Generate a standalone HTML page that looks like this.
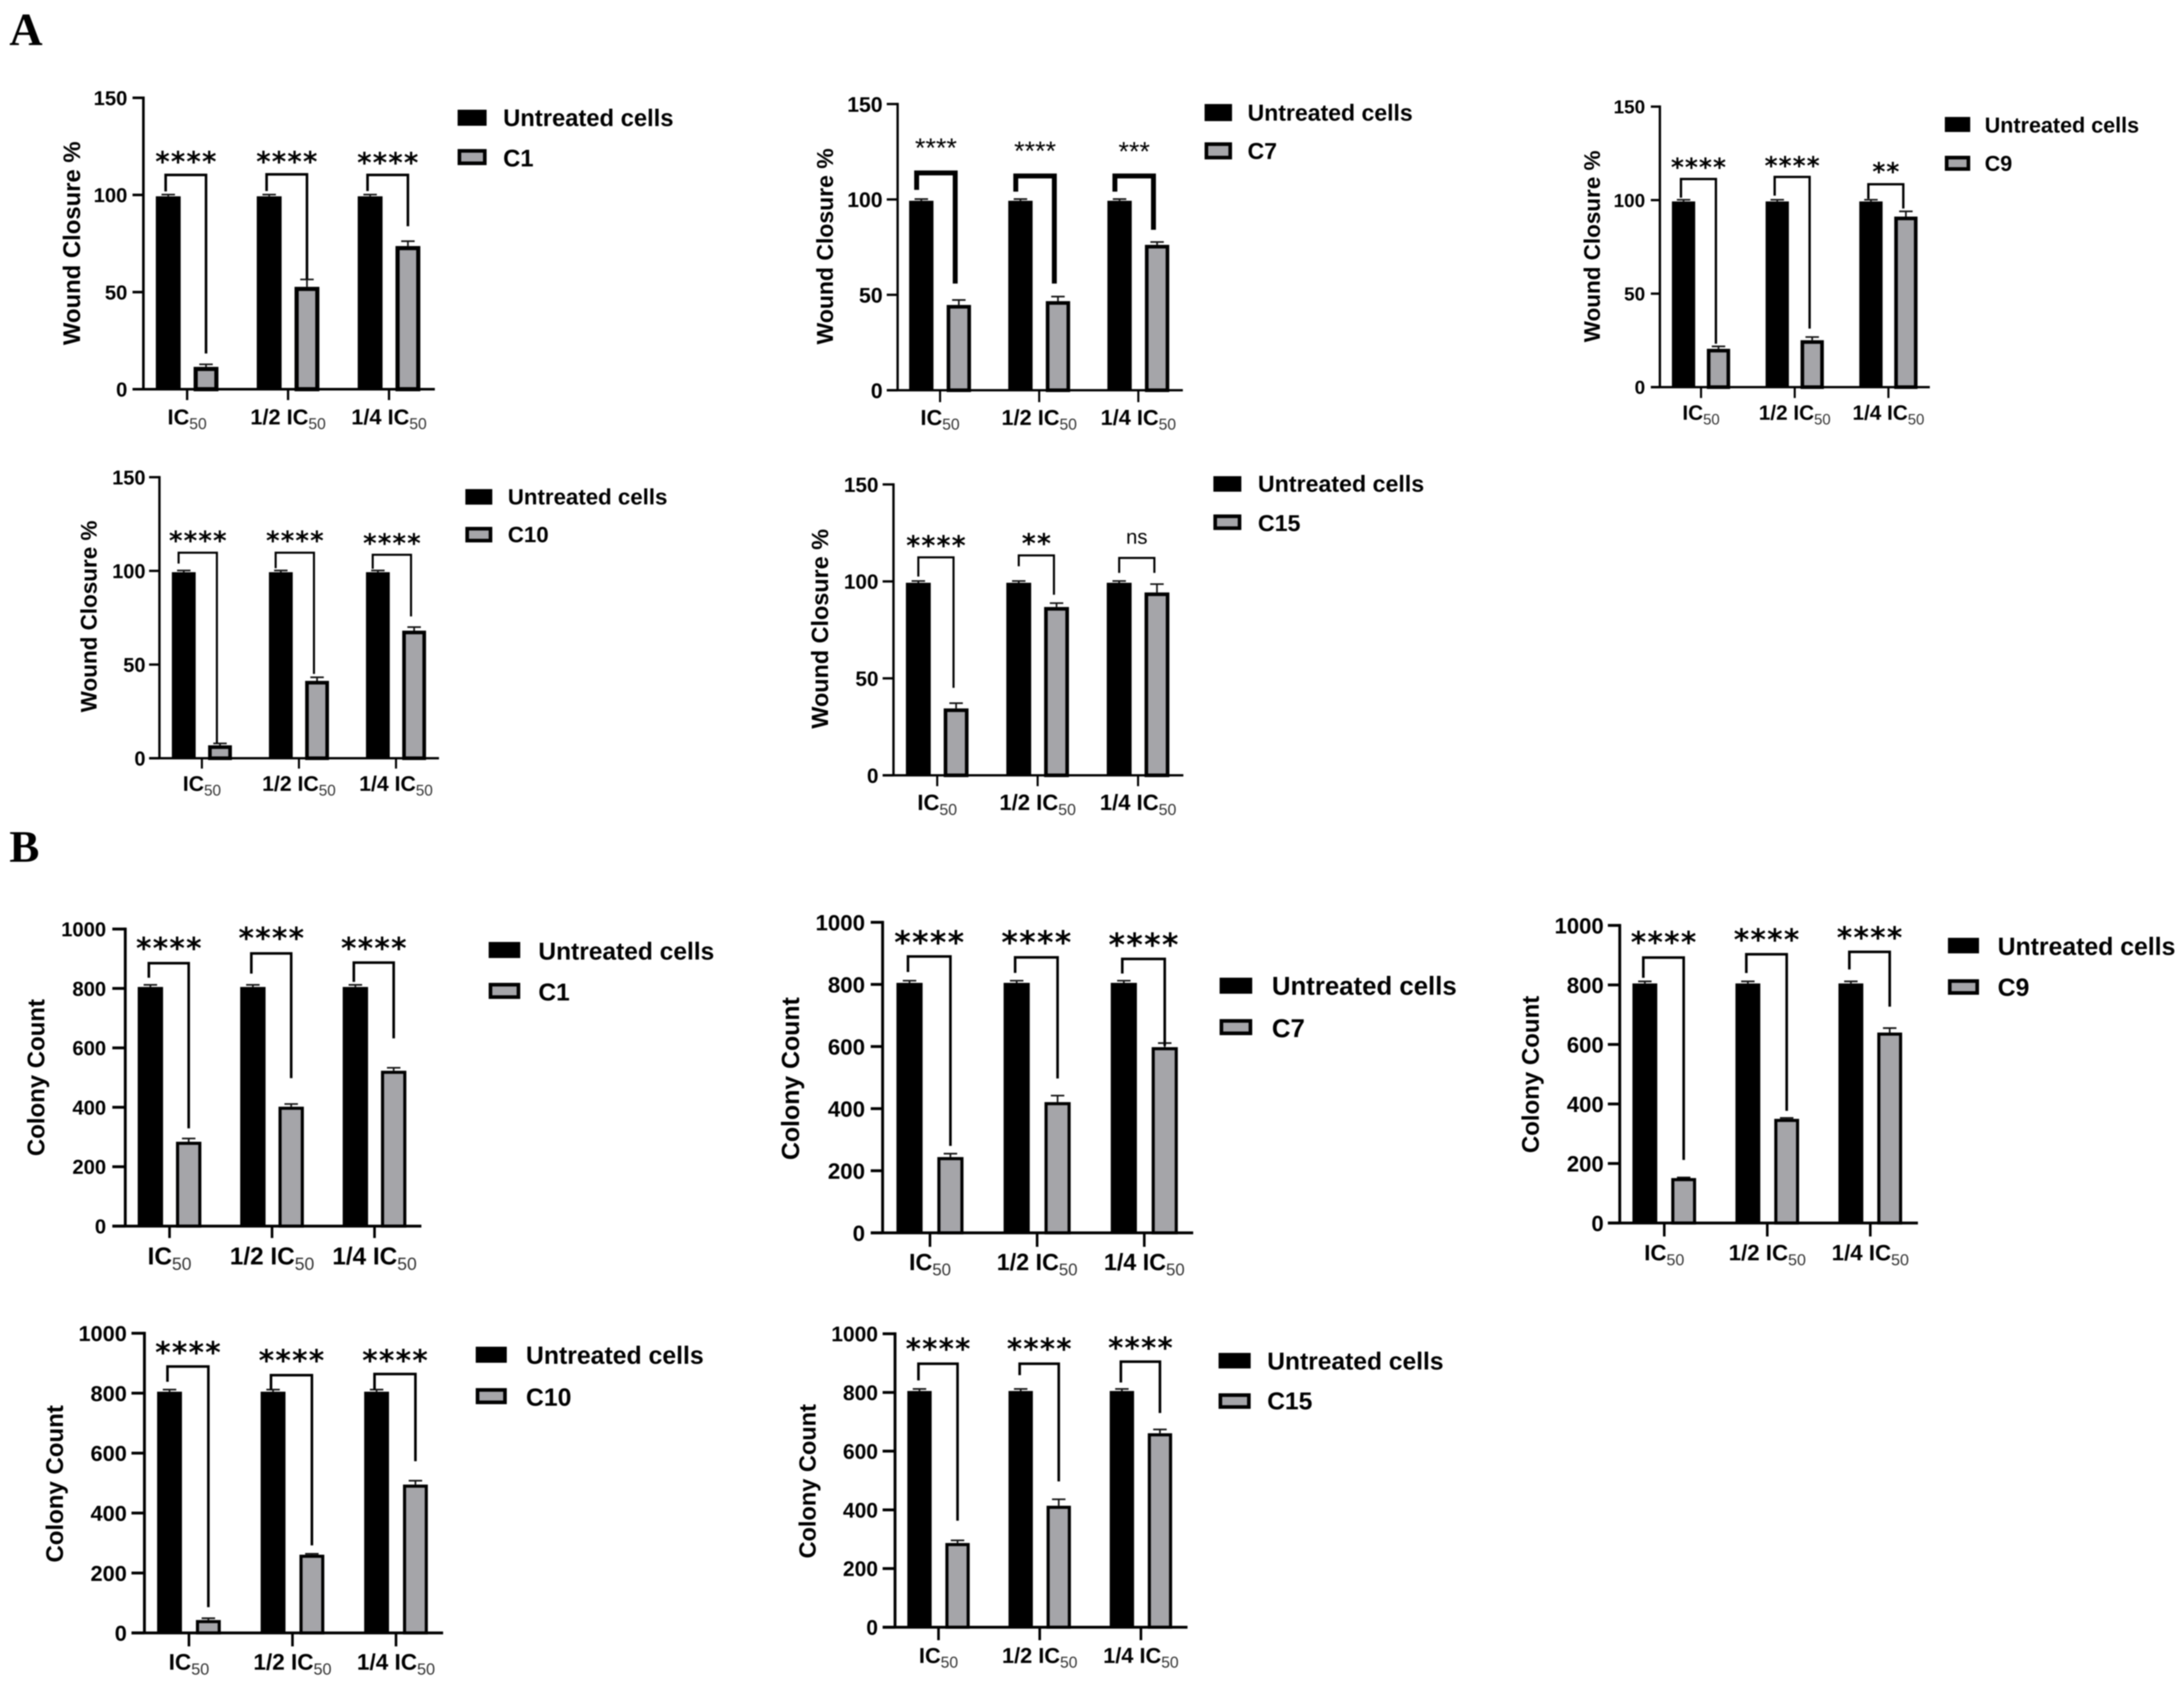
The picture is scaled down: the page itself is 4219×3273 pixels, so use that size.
<!DOCTYPE html>
<html lang="en">
<head>
<meta charset="utf-8">
<title>Wound closure and colony count bar charts</title>
<style>
html,body{margin:0;padding:0;background:#fff;}
svg{display:block;filter:blur(1.1px);}
text{font-family:"Liberation Sans",Arial,sans-serif;fill:#000;}
</style>
</head>
<body>
<svg id="figure" xmlns="http://www.w3.org/2000/svg" width="4219" height="3273" viewBox="0 0 4219 3273">
<rect x="0" y="0" width="4219" height="3273" fill="#ffffff"/>
<text x="18" y="87" style="font-family:'Liberation Serif',serif;font-weight:bold;font-size:89px">A</text>
<text x="18" y="1665" style="font-family:'Liberation Serif',serif;font-weight:bold;font-size:87px">B</text>
</svg>
<script>
// ---------- shared data ----------
const categories = ['IC', '1/2 IC', '1/4 IC'];
const categorySubscript = '50';
const woundTicks = [0, 50, 100, 150];
const colonyTicks = [0, 200, 400, 600, 800, 1000];
const seriesControl = 'Untreated cells';
const woundTitle = 'Wound Closure %';
const colonyTitle = 'Colony Count';

// ---------- wound closure values ----------
const woundControl = [99.3, 99.3, 99.3];
const woundControlErr = [0.9, 0.9, 0.9];

const woundC1 = [11.5, 52.7, 73.7];
const woundC1Err = [1.3, 3.8, 2.5];
const woundC1Sig = ['****', '****', '****'];
const woundC1BracketTop = [110.3, 110.6, 110.3];
const woundC1BracketLeft = [101.8, 102, 102];
const woundC1BracketRight = [18.4, 56.8, 83.9];
const woundC1SigLevel = [119.6, 119.6, 119];

const woundC7 = [44.7, 46.7, 76.2];
const woundC7Err = [2.6, 2.4, 1.5];
const woundC7Sig = ['****', '****', '***'];
const woundC7BracketTop = [113.9, 112.3, 112.3];
const woundC7BracketLeft = [105, 104.1, 104.1];
const woundC7BracketRight = [55.9, 55.9, 84.1];
const woundC7SigLevel = [128.8, 127.2, 126.9];

const woundC9 = [20.5, 25.1, 91.2];
const woundC9Err = [1.3, 1.7, 2.8];
const woundC9Sig = ['****', '****', '**'];
const woundC9BracketTop = [111.3, 112.4, 108.5];
const woundC9BracketLeft = [101.3, 102.4, 100.7];
const woundC9BracketRight = [23.2, 31.3, 95.5];
const woundC9SigLevel = [119.8, 120.7, 117.5];

const woundC10 = [6.9, 41.3, 68.1];
const woundC10Err = [1, 1.9, 1.9];
const woundC10Sig = ['****', '****', '****'];
const woundC10BracketTop = [109.7, 109.7, 108.6];
const woundC10BracketLeft = [103.9, 101.4, 101.1];
const woundC10BracketRight = [8, 45, 75.7];
const woundC10SigLevel = [118.5, 118.5, 117.1];

const woundC15 = [34.5, 86.8, 94.3];
const woundC15Err = [2.7, 2, 4.3];
const woundC15Sig = ['****', '**', 'ns'];
const woundC15BracketTop = [112.4, 113.4, 112.1];
const woundC15BracketLeft = [102.5, 107.8, 104.4];
const woundC15BracketRight = [45.1, 93.1, 104.4];
const woundC15SigLevel = [120.9, 122, 122];

// ---------- colony count values ----------
const colonyControl = [805, 805, 805];
const colonyControlErr = [7, 7, 7];

const colonyC1 = [284, 402, 523];
const colonyC1Err = [11, 9, 10];
const colonyC1Sig = ['****', '****', '****'];
const colonyC1BracketTop = [885, 918, 887];
const colonyC1BracketLeft = [836, 850, 822];
const colonyC1BracketRight = [329, 498, 632];
const colonyC1SigLevel = [952, 986, 952];

const colonyC7 = [244, 421, 598];
const colonyC7Err = [11, 21, 13];
const colonyC7Sig = ['****', '****', '****'];
const colonyC7BracketTop = [890, 887, 882];
const colonyC7BracketLeft = [840, 837, 835];
const colonyC7BracketRight = [280, 497, 602];
const colonyC7SigLevel = [953, 953, 945];

const colonyC9 = [151, 350, 640];
const colonyC9Err = [2, 3, 15];
const colonyC9Sig = ['****', '****', '****'];
const colonyC9BracketTop = [892, 903, 911];
const colonyC9BracketLeft = [824, 840, 852];
const colonyC9BracketRight = [212, 377, 727];
const colonyC9SigLevel = [960, 969, 976];

const colonyC10 = [43, 261, 495];
const colonyC10Err = [6, 3, 13];
const colonyC10Sig = ['****', '****', '****'];
const colonyC10BracketTop = [889, 860, 864];
const colonyC10BracketLeft = [838, 810, 810];
const colonyC10BracketRight = [86, 292, 573];
const colonyC10SigLevel = [953, 926, 926];

const colonyC15 = [287, 414, 661];
const colonyC15Err = [9, 22, 13];
const colonyC15Sig = ['****', '****', '****'];
const colonyC15BracketTop = [898, 898, 905];
const colonyC15BracketLeft = [841, 859, 834];
const colonyC15BracketRight = [363, 497, 730];
const colonyC15SigLevel = [966, 966, 970];

// ---------- panels: data references plus layout ----------
const panels = [
 {id:'wound-c1', name:'C1', title:woundTitle, ticks:woundTicks, control:woundControl, controlErr:woundControlErr, treated:woundC1, err:woundC1Err, sig:woundC1Sig, top:woundC1BracketTop, left:woundC1BracketLeft, right:woundC1BracketRight, level:woundC1SigLevel,
  ax:277, yTop:189, yZero:752, tickL:256, xEnd:840, first:361.5, step:195, sep:73, barW:48, tickB:773, sw:8, axisW:5, brW:5, brDx:[-5,0], starF:70, starW:'bold', tickF:39, tickR:246, titleF:46.1, titleX:138, titleY:470, xF:42, xBase:820, swX:884, swW:56, sw1:212, sw2:288, swH:31, legX:972, leg1:227, leg2:305, legF:45.9},
 {id:'wound-c7', name:'C7', title:woundTitle, ticks:woundTicks, control:woundControl, controlErr:woundControlErr, treated:woundC7, err:woundC7Err, sig:woundC7Sig, top:woundC7BracketTop, left:woundC7BracketLeft, right:woundC7BracketRight, level:woundC7SigLevel,
  ax:1734, yTop:201, yZero:754, tickL:1713, xEnd:2285, first:1816, step:191.5, sep:72.5, barW:47, tickB:777, sw:7, axisW:4.5, brW:9.5, brDx:[-9,-7], starF:52, starW:'normal', tickF:41, tickR:1705, titleF:44.4, titleX:1593, titleY:476, xF:42, xBase:821, swX:2327, swW:53, sw1:201, sw2:275, swH:33, legX:2410, leg1:217, leg2:291, legF:44.5},
 {id:'wound-c9', name:'C9', title:woundTitle, ticks:woundTicks, control:woundControl, controlErr:woundControlErr, treated:woundC9, err:woundC9Err, sig:woundC9Sig, top:woundC9BracketTop, left:woundC9BracketLeft, right:woundC9BracketRight, level:woundC9SigLevel,
  ax:3206.5, yTop:206, yZero:748, tickL:3189, xEnd:3728, first:3286, step:181, sep:67.5, barW:45, tickB:769, sw:7, axisW:4.5, brW:4.5, brDx:[-5,-5], starF:63, starW:'bold', tickF:36.5, tickR:3178, titleF:43.4, titleX:3075, titleY:476, xF:40, xBase:811, swX:3757, swW:49, sw1:226, sw2:301, swH:29, legX:3834, leg1:241, leg2:315, legF:41.6},
 {id:'wound-c10', name:'C10', title:woundTitle, ticks:woundTicks, control:woundControl, controlErr:woundControlErr, treated:woundC10, err:woundC10Err, sig:woundC10Sig, top:woundC10BracketTop, left:woundC10BracketLeft, right:woundC10BracketRight, level:woundC10SigLevel,
  ax:308, yTop:922, yZero:1465, tickL:288, xEnd:848, first:390, step:187.5, sep:70, barW:46, tickB:1485, sw:7, axisW:4.5, brW:4, brDx:[-10,-6], starF:66, starW:'bold', tickF:38.5, tickR:281, titleF:43.4, titleX:171, titleY:1191, xF:41, xBase:1528, swX:899, swW:52, sw1:945, sw2:1018, swH:30, legX:981, leg1:959, leg2:1032, legF:43},
 {id:'wound-c15', name:'C15', title:woundTitle, ticks:woundTicks, control:woundControl, controlErr:woundControlErr, treated:woundC15, err:woundC15Err, sig:woundC15Sig, top:woundC15BracketTop, left:woundC15BracketLeft, right:woundC15BracketRight, level:woundC15SigLevel,
  ax:1726, yTop:936, yZero:1498, tickL:1705, xEnd:2286, first:1810.5, step:194, sep:73, barW:48, tickB:1519, sw:7, axisW:4.5, brW:4, brDx:[0,-5], starF:68, starW:'bold', tickF:40, tickR:1697, titleF:45.2, titleX:1583, titleY:1215, xF:42.6, xBase:1565, swX:2344, swW:54, sw1:920, sw2:994, swH:30, legX:2430, leg1:934, leg2:1010, legF:44.8},
 {id:'colony-c1', name:'C1', title:colonyTitle, ticks:colonyTicks, control:colonyControl, controlErr:colonyControlErr, treated:colonyC1, err:colonyC1Err, sig:colonyC1Sig, top:colonyC1BracketTop, left:colonyC1BracketLeft, right:colonyC1BracketRight, level:colonyC1SigLevel,
  ax:242, yTop:1795, yZero:2369, tickL:217, xEnd:814, first:327.5, step:198, sep:74, barW:49, tickB:2392, sw:6, axisW:5.5, brW:5, brDx:[-3,0], starF:75, starW:'bold', tickF:39, tickR:205, titleF:46.3, titleX:69, titleY:2082, xF:47, xBase:2443, swX:944, swW:61, sw1:1820, sw2:1899, swH:31, legX:1040, leg1:1837, leg2:1916, legF:47.4},
 {id:'colony-c7', name:'C7', title:colonyTitle, ticks:colonyTicks, control:colonyControl, controlErr:colonyControlErr, treated:colonyC7, err:colonyC7Err, sig:colonyC7Sig, top:colonyC7BracketTop, left:colonyC7BracketLeft, right:colonyC7BracketRight, level:colonyC7SigLevel,
  ax:1705, yTop:1782, yZero:2382, tickL:1682, xEnd:2305, first:1796.5, step:207, sep:79, barW:50.5, tickB:2409, sw:6, axisW:5.5, brW:5, brDx:[-3,0], starF:80, starW:'bold', tickF:43, tickR:1671, titleF:48, titleX:1526, titleY:2084, xF:45, xBase:2454, swX:2356, swW:63, sw1:1889, sw2:1969, swH:31, legX:2457, leg1:1904, leg2:1986, legF:49.8},
 {id:'colony-c9', name:'C9', title:colonyTitle, ticks:colonyTicks, control:colonyControl, controlErr:colonyControlErr, treated:colonyC9, err:colonyC9Err, sig:colonyC9Sig, top:colonyC9BracketTop, left:colonyC9BracketLeft, right:colonyC9BracketRight, level:colonyC9SigLevel,
  ax:3129, yTop:1788, yZero:2363, tickL:3106, xEnd:3705, first:3215, step:199, sep:75, barW:48, tickB:2389, sw:6, axisW:5.5, brW:5, brDx:[-3,0], starF:75, starW:'bold', tickF:42.7, tickR:3098, titleF:46.4, titleX:2956, titleY:2076, xF:43, xBase:2435, swX:3763, swW:60, sw1:1812, sw2:1892, swH:30, legX:3859, leg1:1828, leg2:1907, legF:47.9},
 {id:'colony-c10', name:'C10', title:colonyTitle, ticks:colonyTicks, control:colonyControl, controlErr:colonyControlErr, treated:colonyC10, err:colonyC10Err, sig:colonyC10Sig, top:colonyC10BracketTop, left:colonyC10BracketLeft, right:colonyC10BracketRight, level:colonyC10SigLevel,
  ax:279, yTop:2576, yZero:3155, tickL:254, xEnd:856, first:365, step:200, sep:75, barW:48, tickB:3181, sw:6, axisW:5.5, brW:5, brDx:[-4,0], starF:75, starW:'bold', tickF:42, tickR:245, titleF:46.4, titleX:105, titleY:2867, xF:43.5, xBase:3226, swX:919, swW:60, sw1:2602, sw2:2682, swH:31, legX:1016, leg1:2618, leg2:2699, legF:47.9},
 {id:'colony-c15', name:'C15', title:colonyTitle, ticks:colonyTicks, control:colonyControl, controlErr:colonyControlErr, treated:colonyC15, err:colonyC15Err, sig:colonyC15Sig, top:colonyC15BracketTop, left:colonyC15BracketLeft, right:colonyC15BracketRight, level:colonyC15SigLevel,
  ax:1729, yTop:2577, yZero:3144, tickL:1705, xEnd:2294, first:1813, step:195.5, sep:73.5, barW:47, tickB:3169, sw:6, axisW:5.5, brW:5, brDx:[-2,0], starF:74, starW:'bold', tickF:40.5, tickR:1696, titleF:45.5, titleX:1559, titleY:2862, xF:42, xBase:3213, swX:2354, swW:62, sw1:2614, sw2:2692, swH:30, legX:2448, leg1:2629, leg2:2706, legF:47.5}
];

const GREY = '#a5a5a9';
const SVGNS = 'http://www.w3.org/2000/svg';

function el(parent, tag, attrs, content) {
  const node = document.createElementNS(SVGNS, tag);
  for (const k in attrs) node.setAttribute(k, attrs[k]);
  if (content !== undefined) node.textContent = content;
  parent.appendChild(node);
  return node;
}

function drawPanel(svg, p) {
  const g = el(svg, 'g', {});
  
  

  const maxV = p.ticks[p.ticks.length - 1];
  const yScale = v => p.yZero - (v / maxV) * (p.yZero - p.yTop);
  const groupX = i => p.first + i * p.step;
  const controlX = i => groupX(i) - p.sep / 2;
  const treatedX = i => groupX(i) + p.sep / 2;

  // error bars (behind the bars)
  categories.forEach((c, i) => {
    [[controlX(i), p.control[i], p.controlErr[i], 'control'], [treatedX(i), p.treated[i], p.err[i], 'treated']].forEach(e => {
      const path = el(g, 'path', {
        d: 'M' + e[0] + ' ' + yScale(e[1]) + 'V' + yScale(e[1] + e[2]) + 'M' + (e[0] - 13) + ' ' + yScale(e[1] + e[2]) + 'H' + (e[0] + 13),
        stroke: '#111', 'stroke-width': 3.2, fill: 'none'
      });
      
      
    });
  });

  // bars
  categories.forEach((c, i) => {
    const black = el(g, 'rect', {
      x: controlX(i) - p.barW / 2, y: yScale(p.control[i]),
      width: p.barW, height: p.yZero - yScale(p.control[i]), fill: '#000'
    });
    
    

    const grey = el(g, 'rect', {
      x: treatedX(i) - p.barW / 2 + p.sw / 2, y: yScale(p.treated[i]) + p.sw / 2,
      width: p.barW - p.sw, height: Math.max(0, p.yZero - yScale(p.treated[i]) - p.sw / 2),
      fill: GREY, stroke: '#000', 'stroke-width': p.sw
    });
    
    
  });

  // axes
  const yAxis = el(g, 'line', {x1: p.ax, x2: p.ax, y1: p.yTop - p.axisW / 2, y2: p.yZero, stroke: '#000', 'stroke-width': p.axisW});
  
  

  const xAxis = el(g, 'line', {x1: p.tickL, x2: p.xEnd, y1: p.yZero, y2: p.yZero, stroke: '#000', 'stroke-width': p.axisW});
  
  

  p.ticks.forEach(t => {
    const tick = el(g, 'line', {x1: p.tickL, x2: p.ax, y1: yScale(t), y2: yScale(t), stroke: '#000', 'stroke-width': p.axisW});
    
    

    const label = el(g, 'text', {
      x: p.tickR, y: yScale(t) + p.tickF * 0.36, 'text-anchor': 'end',
      'font-weight': 'bold', 'font-size': p.tickF
    }, String(t));
    
    
  });

  // category ticks and labels
  categories.forEach((c, i) => {
    const tick = el(g, 'line', {x1: groupX(i), x2: groupX(i), y1: p.yZero, y2: p.tickB, stroke: '#000', 'stroke-width': p.axisW - 0.5});
    
    

    const label = el(g, 'text', {x: groupX(i), y: p.xBase, 'text-anchor': 'middle', 'font-size': p.xF, 'font-weight': 'bold'});
    
    
    el(label, 'tspan', {}, c);
    el(label, 'tspan', {dy: p.xF * 0.22, 'font-size': p.xF * 0.72, 'font-weight': 'normal', style: 'fill:#333'}, categorySubscript);
  });

  // y title
  const title = el(g, 'text', {
    transform: 'translate(' + (p.titleX + p.titleF * 0.36) + ' ' + p.titleY + ') rotate(-90)',
    'text-anchor': 'middle', 'font-weight': 'bold', 'font-size': p.titleF
  }, p.title);
  
  

  // significance brackets and labels
  categories.forEach((c, i) => {
    const lx = controlX(i) + p.brDx[0];
    const rx = treatedX(i) + p.brDx[1];
    const bracket = el(g, 'path', {
      d: 'M' + lx + ' ' + yScale(p.left[i]) + 'V' + yScale(p.top[i]) + 'H' + rx + 'V' + yScale(p.right[i]),
      stroke: '#000', 'stroke-width': p.brW, fill: 'none'
    });
    
    

    const s = p.sig[i];
    const cx = (lx + rx) / 2;
    const cy = yScale(p.level[i]);
    let sig;
    if (s === 'ns') {
      sig = el(g, 'text', {x: cx, y: cy + 39 * 0.25, 'text-anchor': 'middle', 'font-size': 39}, s);
    } else if (p.starW === 'normal') {
      sig = el(g, 'text', {x: cx, y: cy + p.starF * 0.47, 'text-anchor': 'middle', 'font-size': p.starF}, s);
    } else {
      const f = p.starF * 0.76;
      const ls = p.starF * 0.43 - f * 0.523;
      sig = el(g, 'text', {
        x: cx + ls / 2, y: cy + f * 0.52, 'text-anchor': 'middle', 'font-size': f,
        'font-weight': 'bold',
        style: 'font-family:"DejaVu Sans",sans-serif;letter-spacing:' + ls + 'px'
      }, s);
    }
    
    
  });

  // legend
  const swA = el(g, 'rect', {x: p.swX, y: p.sw1, width: p.swW, height: p.swH, fill: '#000'});
  
  

  const txtA = el(g, 'text', {x: p.legX, y: p.leg1 + p.legF * 0.36, 'font-weight': 'bold', 'font-size': p.legF}, seriesControl);
  
  

  const swB = el(g, 'rect', {x: p.swX + 3.5, y: p.sw2 + 3.5, width: p.swW - 7, height: p.swH - 7, fill: GREY, stroke: '#000', 'stroke-width': 7});
  
  

  const txtB = el(g, 'text', {x: p.legX, y: p.leg2 + p.legF * 0.36, 'font-weight': 'bold', 'font-size': p.legF}, p.name);
  
  
}

const figure = document.getElementById('figure');
panels.forEach(p => drawPanel(figure, p));
</script>
</body>
</html>
